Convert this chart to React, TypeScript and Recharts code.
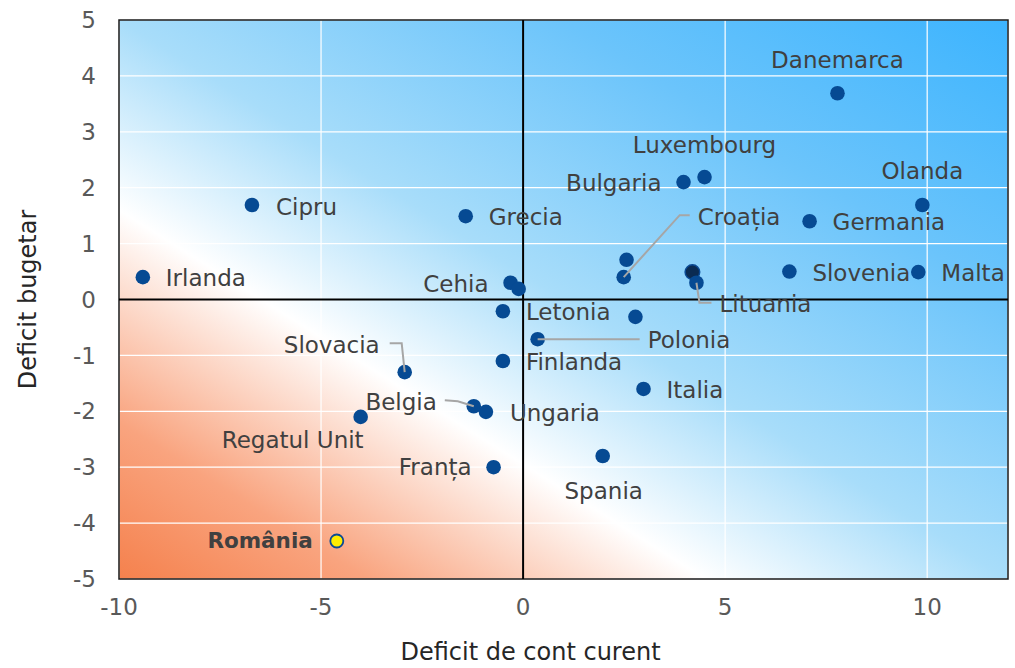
import { ScatterChart, Scatter, XAxis, YAxis, CartesianGrid, ReferenceLine, ReferenceArea } from "recharts"

// Deficit de cont curent (x) vs deficit bugetar (y), % PIB
const countries = [
    "Danemarca", "Luxembourg", "Bulgaria", "Olanda", "Germania", "Cipru", "Grecia",
    "Irlanda", "Cehia", "Austria", "Portugalia", "Croația", "Suedia", "Lituania",
    "Slovenia", "Malta", "Letonia", "Estonia", "Polonia", "Finlanda", "Slovacia",
    "Belgia", "Ungaria", "Italia", "Regatul Unit", "Franța", "Spania", "România",
];
const contCurent = [
    7.78, 4.49, 3.97, 9.88, 7.09, -6.71, -1.42,
    -9.41, -0.31, -0.11, 2.56, 2.49, 4.19, 4.29,
    6.59, 9.78, -0.5, 2.78, 0.36, -0.5, -2.93,
    -1.22, -0.92, 2.98, -4.02, -0.73, 1.97, -4.61,
];
const deficitBugetar = [
    3.69, 2.19, 2.1, 1.69, 1.4, 1.69, 1.49,
    0.4, 0.3, 0.19, 0.71, 0.4, 0.49, 0.3,
    0.5, 0.49, -0.21, -0.31, -0.71, -1.1, -1.3,
    -1.91, -2.01, -1.6, -2.1, -3.0, -2.8, -4.32,
];
const xTicks = [-10, -5, 0, 5, 10];
const yTicks = [-5, -4, -3, -2, -1, 0, 1, 2, 3, 4, 5];

type Anchor = "start" | "middle" | "end";
interface LabelPos {
    dx: number;
    dy: number;
    anchor: Anchor;
    leader?: number[][];
}

// label offsets in pixels from the marker
const labelPos: Record<string, LabelPos> = {
    "Danemarca": { dx: 0, dy: -33, anchor: "middle" },
    "Luxembourg": { dx: 0, dy: -32, anchor: "middle" },
    "Bulgaria": { dx: -22, dy: 1, anchor: "end" },
    "Olanda": { dx: 0, dy: -34, anchor: "middle" },
    "Germania": { dx: 23, dy: 1, anchor: "start" },
    "Cipru": { dx: 24, dy: 2, anchor: "start" },
    "Grecia": { dx: 23, dy: 1, anchor: "start" },
    "Irlanda": { dx: 23, dy: 1, anchor: "start" },
    "Cehia": { dx: -22, dy: 1, anchor: "end" },
    "Croația": { dx: 74, dy: -60, anchor: "start", leader: [[0, 0], [56, -62], [66, -62]] },
    "Lituania": { dx: 23, dy: 21, anchor: "start", leader: [[0, 0], [3, 20], [15, 20]] },
    "Slovenia": { dx: 23, dy: 1, anchor: "start" },
    "Malta": { dx: 23, dy: 1, anchor: "start" },
    "Letonia": { dx: 23, dy: 1, anchor: "start" },
    "Polonia": { dx: 110, dy: 1, anchor: "start", leader: [[0, 0], [102, 0]] },
    "Finlanda": { dx: 23, dy: 1, anchor: "start" },
    "Slovacia": { dx: -25, dy: -27, anchor: "end", leader: [[0, 0], [-3, -29], [-15, -29]] },
    "Belgia": { dx: -37, dy: -4, anchor: "end", leader: [[0, 0], [-16, -5], [-29, -6]] },
    "Ungaria": { dx: 24, dy: 1, anchor: "start" },
    "Italia": { dx: 23, dy: 1, anchor: "start" },
    "Regatul Unit": { dx: 3, dy: 23, anchor: "end" },
    "Franța": { dx: -22, dy: 0, anchor: "end" },
    "Spania": { dx: 1, dy: 35, anchor: "middle" },
    "România": { dx: -24, dy: 0, anchor: "end" },
};

const data = countries.map((name, i) => ({
    name,
    x: contCurent[i],
    y: deficitBugetar[i],
}));

const FONT = "DejaVu Sans";

const renderPoint = (props: any) => {
    const { cx, cy, payload } = props;
    const pos = labelPos[payload.name];
    const isRo = payload.name === "România";
    const isDark = payload.name === "Suedia";
    return (
        <g>
            {isRo ? (
                <circle cx={cx} cy={cy} r={6.5} fill="#ffed00" stroke="#0b4a94" strokeWidth={1.8} />
            ) : (
                <circle cx={cx} cy={cy} r={7.3} fill={isDark ? "#0a2b52" : "#064a93"} stroke={isDark ? "#0b4a94" : "none"} strokeWidth={1.5} />
            )}
            {pos && pos.leader && (
                <polyline
                    points={pos.leader.map(([a, b]) => `${cx + a},${cy + b}`).join(" ")}
                    fill="none"
                    stroke="#a6a6a6"
                    strokeWidth={2}
                />
            )}
            {pos && (
                <text
                    x={cx + pos.dx}
                    y={cy + pos.dy}
                    textAnchor={pos.anchor}
                    dominantBaseline="central"
                    fontSize={isRo ? 21.5 : 23}
                    fontFamily={FONT}
                    fontWeight={isRo ? "bold" : "normal"}
                    fill="#404040"
                >
                    {payload.name}
                </text>
            )}
        </g>
    );
};

export default function App() {
    return (
        <div style={{ position: "absolute", left: 0, top: 0, fontFamily: FONT, background: "#fff" }}>
            <ScatterChart width={1015} height={668} margin={{ top: 20, right: 7, bottom: 0, left: 0 }}>
                <defs>
                    <linearGradient id="bgGrad" x1="0" y1="1" x2="1" y2="0">
                        <stop offset="0" stopColor="#f5814d" />
                        <stop offset="0.14" stopColor="#f9a47f" />
                        <stop offset="0.33" stopColor="#ffffff" />
                        <stop offset="0.5" stopColor="#a8ddfa" />
                        <stop offset="0.75" stopColor="#6bc4fb" />
                        <stop offset="1" stopColor="#3db4fe" />
                    </linearGradient>
                </defs>
                <CartesianGrid fill="url(#bgGrad)" fillOpacity={1} stroke="#ffffff" strokeWidth={1.2} />
                <XAxis
                    type="number"
                    dataKey="x"
                    domain={[-10, 12]}
                    ticks={xTicks}
                    axisLine={false}
                    tickLine={false}
                    tickSize={0}
                    tickMargin={20}
                    height={89}
                    tick={{ fontSize: 23, fill: "#595959", fontFamily: FONT }}
                    label={{ value: "Deficit de cont curent", position: "insideBottom", offset: 8, dx: -33, fontSize: 24, fill: "#262626", fontFamily: FONT }}
                />
                <YAxis
                    type="number"
                    dataKey="y"
                    domain={[-5, 5]}
                    ticks={yTicks}
                    axisLine={false}
                    tickLine={false}
                    tickSize={0}
                    tickMargin={23}
                    width={119}
                    tick={{ fontSize: 23, fill: "#595959", fontFamily: FONT }}
                    label={{ value: "Deficit bugetar", angle: -90, position: "insideLeft", offset: 27, style: { textAnchor: "middle" }, fontSize: 24, fill: "#262626", fontFamily: FONT }}
                />
                <ReferenceLine x={0} stroke="#000" strokeWidth={2} />
                <ReferenceLine y={0} stroke="#000" strokeWidth={2} />
                <ReferenceArea x1={-10} x2={12} y1={-5} y2={5} fill="none" stroke="#1a1a1a" strokeWidth={1.5} />
                <Scatter data={data} shape={renderPoint} isAnimationActive={false} />
            </ScatterChart>
        </div>
    );
}
